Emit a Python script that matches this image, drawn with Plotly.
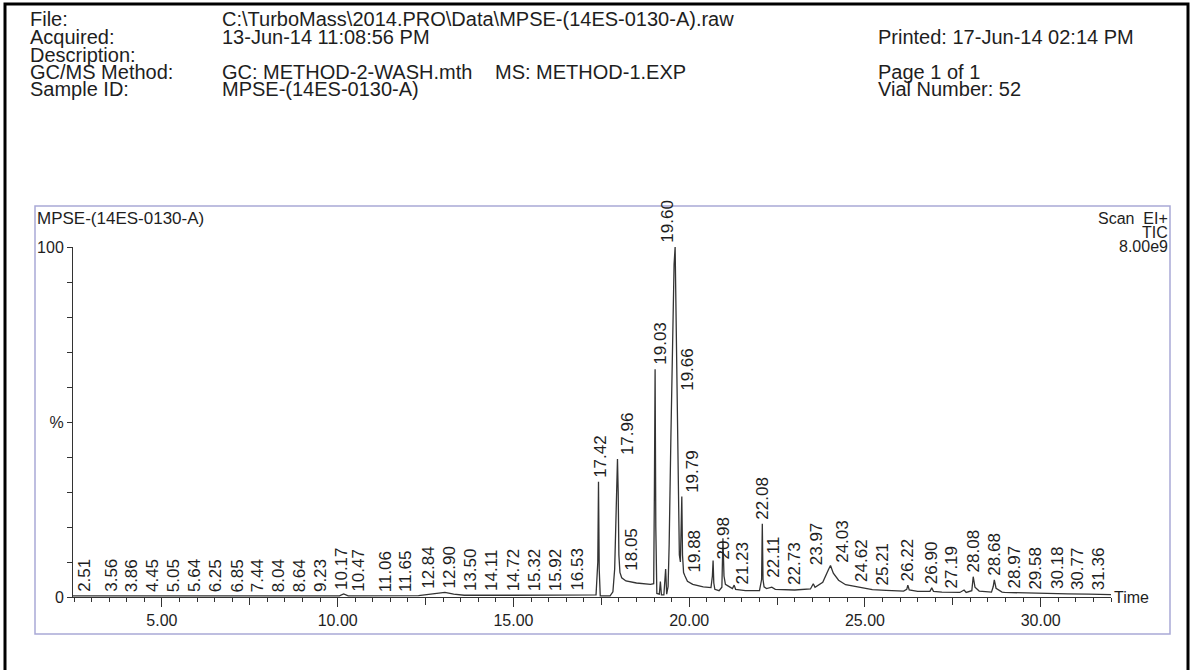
import numpy as np
import plotly.graph_objects as go

# ---------------- data ----------------
time_min = [2.47, 3.5, 5.0, 7.0, 9.0, 10.05, 10.17, 10.3, 12.3, 12.6, 12.9, 13.05, 13.3, 13.6,
            15.0, 16.5, 17.35, 17.40, 17.42, 17.44, 17.47, 17.75, 17.83, 17.88, 17.92, 17.96,
            17.98, 18.00, 18.03, 18.08, 18.2, 18.5, 18.9, 18.99, 19.01, 19.03, 19.05, 19.08,
            19.15, 19.18, 19.21, 19.28, 19.33, 19.36, 19.40, 19.43, 19.48, 19.53, 19.57, 19.60,
            19.62, 19.66, 19.69, 19.72, 19.75, 19.79, 19.81, 19.84, 19.88, 19.95, 20.1, 20.4,
            20.62, 20.66, 20.68, 20.70, 20.73, 20.85, 20.93, 20.96, 20.99, 21.03, 21.15, 21.23,
            21.28, 21.32, 21.6, 22.0, 22.06, 22.08, 22.10, 22.13, 22.2, 22.35, 22.45, 22.73,
            23.0, 23.45, 23.53, 23.58, 23.8, 23.97, 24.02, 24.1, 24.25, 24.45, 24.62, 24.9,
            25.21, 25.6, 26.1, 26.19, 26.22, 26.26, 26.5, 26.85, 26.90, 26.95, 27.19, 27.7,
            27.82, 27.88, 28.04, 28.08, 28.13, 28.25, 28.6, 28.65, 28.68, 28.73, 28.9, 28.97,
            29.58, 30.18, 30.77, 31.36, 32.0]
intensity_pct = [0.3, 0.3, 0.3, 0.3, 0.3, 0.3, 0.9, 0.3, 0.4, 0.8, 1.3, 1.3, 0.8, 0.5,
                 0.5, 0.6, 0.6, 10, 32.9, 8, 0.3, 0.3, 1.5, 8, 25, 39.4,
                 30, 12, 7, 5.5, 4.6, 4.0, 3.6, 3.8, 30, 65.1, 20, 1.0,
                 0.8, 4.4, 0.6, 0.6, 8.0, 0.8, 3, 15, 46, 75, 95, 100,
                 85, 57.7, 35, 12, 10, 28.7, 12, 7, 6, 4.5, 3.6, 2.9,
                 2.7, 6, 10.4, 4, 2.2, 1.8, 2.8, 16.8, 6, 3.6, 2.9, 2.4,
                 3.4, 2.2, 1.8, 1.8, 5, 20.9, 5, 2.9, 2.4, 2.8, 2.2, 2.2,
                 2.0, 2.3, 3.8, 2.8, 4.2, 8.0, 9.0, 6.8, 4.8, 3.5, 3.2, 2.5,
                 2.1, 1.9, 1.7, 2.2, 3.4, 2.0, 1.6, 1.6, 2.6, 1.6, 1.4, 1.3,
                 2.0, 1.3, 1.8, 5.8, 2.8, 1.7, 1.4, 3.0, 4.9, 2.5, 1.4, 1.3,
                 1.1, 1.0, 0.9, 0.8, 0.7]

peak_labels = [2.51, 3.56, 3.86, 4.45, 5.05, 5.64, 6.25, 6.85, 7.44, 8.04, 8.64, 9.23,
               10.17, 10.47, 11.06, 11.65, 12.84, 12.90, 13.50, 14.11, 14.72, 15.32, 15.92,
               16.53, 17.42, 17.96, 18.05, 19.03, 19.60, 19.66, 19.79, 19.88, 20.98, 21.23,
               22.08, 22.11, 22.73, 23.97, 24.03, 24.62, 25.21, 26.22, 26.90, 27.19, 28.08,
               28.68, 28.97, 29.58, 30.18, 30.77, 31.36]

x_major_ticks = [5, 10, 15, 20, 25, 30]
x_medium_ticks = [7.5, 12.5, 17.5, 22.5, 27.5]
y_tick_values = [0, 10, 20, 30, 40, 50, 60, 70, 80, 90, 100]
y_tick_text = ["0", "", "", "", "", "%", "", "", "", "", "100"]

header_left = ["File:", "Acquired:", "Description:", "GC/MS Method:", "Sample ID:"]
header_values = ["C:\\TurboMass\\2014.PRO\\Data\\MPSE-(14ES-0130-A).raw",
                 "13-Jun-14 11:08:56 PM", "", "GC: METHOD-2-WASH.mth", "MPSE-(14ES-0130-A)"]
header_ms = "MS: METHOD-1.EXP"
header_right = ["", "Printed: 17-Jun-14 02:14 PM", "", "Page 1 of 1", "Vial Number: 52"]
plot_title = "MPSE-(14ES-0130-A)"
scan_info = ["Scan\u00a0\u00a0EI+", "TIC", "8.00e9"]

# ---------------- layout geometry / style ----------------
W, H = 1192, 670
ML, MR, MT, MB = 73, 81, 247, 73
PL, PR, PT, PB = ML, W - MR, MT, H - MB
FONT = "Liberation Sans, Arial, Helvetica, sans-serif"
INK = "#1e1e1e"
HEADER_SIZE = 20


def px(X):
    return (X - PL) / (PR - PL)


def py(Y):
    return (PB - Y) / (PB - PT)


# per-label horizontal nudges (pixels); default places label just right of its time
LABEL_DEFAULT_SHIFT = 10
LABEL_SHIFT = {3.56: 0, 10.17: -2, 10.47: 4, 12.84: -9, 17.42: 2, 19.03: 6, 19.60: -8,
               20.98: 0, 22.08: 0, 23.97: -12, 24.03: 12, 26.22: 0, 26.90: 0,
               28.08: 0, 28.68: 0}

fig = go.Figure()
fig.add_trace(go.Scatter(x=time_min, y=intensity_pct, mode="lines",
                         line=dict(color="#333333", width=1.3), hoverinfo="skip",
                         showlegend=False))
# invisible helper trace carrying the medium (2.5 min) tick axis
fig.add_trace(go.Scatter(x=[time_min[0]], y=[0], xaxis="x2", mode="markers",
                         marker=dict(opacity=0), showlegend=False, hoverinfo="skip"))

xr = [2.47, 32.0]
fig.update_layout(
    width=W, height=H,
    margin=dict(l=ML, r=MR, t=MT, b=MB, pad=0),
    paper_bgcolor="white", plot_bgcolor="white",
    font=dict(family=FONT, color=INK),
    xaxis=dict(range=xr, showgrid=False, zeroline=False, showline=True,
               linecolor="#333", linewidth=1, ticks="outside", ticklen=9, tickwidth=1,
               tickcolor="#333", tickvals=x_major_ticks, tickformat=".2f",
               tickfont=dict(size=16, family=FONT, color=INK), automargin=False,
               minor=dict(dtick=0.5, tick0=0, ticks="outside", ticklen=4,
                          tickcolor="#333", tickwidth=1)),
    xaxis2=dict(range=xr, overlaying="x", anchor="y", side="bottom", showgrid=False,
                zeroline=False, showline=False, ticks="outside", ticklen=7, tickwidth=1,
                tickcolor="#333", tickvals=x_medium_ticks,
                showticklabels=False, automargin=False),
    yaxis=dict(range=[0, 100], showgrid=False, zeroline=False, showline=True,
               linecolor="#333", linewidth=1, ticks="outside", ticklen=5, tickwidth=1,
               tickcolor="#333", tickvals=y_tick_values, ticktext=y_tick_text,
               tickfont=dict(size=16, family=FONT, color=INK), automargin=False),
)

shapes = []
# outer page frame
shapes.append(dict(type="rect", xref="paper", yref="paper", x0=px(5), x1=px(1188),
                   y0=py(676), y1=py(4), line=dict(color="black", width=3)))
# chromatogram panel frame
shapes.append(dict(type="rect", xref="paper", yref="paper", x0=px(35), x1=px(1170),
                   y0=py(634), y1=py(206), line=dict(color="#a9a9d6", width=1.5)))
fig.update_layout(shapes=shapes)

ann = []


def header(text, X, Y, size=HEADER_SIZE, anchor="left"):
    ann.append(dict(text=text, x=px(X), y=py(Y), xref="paper", yref="paper",
                    xanchor=anchor, yanchor="middle", showarrow=False, borderpad=0,
                    font=dict(size=size, family=FONT, color=INK)))


row_y = [18.5, 37, 55, 72, 89]
for i in range(5):
    header(header_left[i], 29, row_y[i])
    if header_values[i]:
        header(header_values[i], 221, row_y[i])
    if header_right[i]:
        header(header_right[i], 877, row_y[i])
header(header_ms, 494, row_y[3])

# panel title and scan info
header(plot_title, 36, 218.5, size=17)
for i, s in enumerate(scan_info):
    header(s, 1169, 218.5 + 14 * i, size=16, anchor="right")

# "Time" axis caption
ann.append(dict(text="Time", x=1.0, y=0, xref="paper", yref="y", xanchor="left",
                yanchor="middle", xshift=1, showarrow=False,
                font=dict(size=16, family=FONT, color=INK)))

# retention-time labels, anchored on the trace at their own retention time
t_arr = np.array(time_min, dtype=float)
i_arr = np.array(intensity_pct, dtype=float)
for v in peak_labels:
    yv = float(np.interp(v, t_arr, i_arr))
    ann.append(dict(text=f"{v:.2f}", x=v, y=yv, xref="x", yref="y", textangle=-90,
                    xanchor="center", yanchor="bottom", showarrow=False,
                    xshift=LABEL_SHIFT.get(v, LABEL_DEFAULT_SHIFT), yshift=3,
                    borderpad=0, font=dict(size=17, family=FONT, color=INK)))

fig.update_layout(annotations=ann)
fig.write_html("out.html", config={"displayModeBar": False})
